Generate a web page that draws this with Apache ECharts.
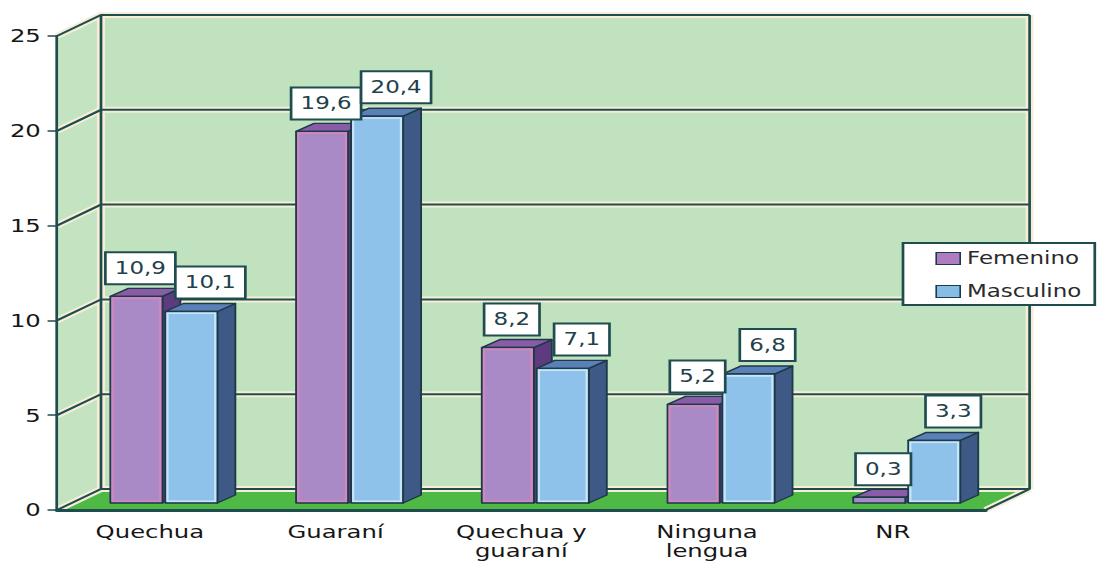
<!DOCTYPE html>
<html>
<head>
<meta charset="utf-8">
<script src="https://cdn.jsdelivr.net/npm/echarts@6/dist/echarts.min.js"></script>
<style>
  html, body { margin: 0; padding: 0; background: #ffffff; overflow: hidden; }
  /* the chart is laid out narrow and widened, which gives its lettering a broad face */
  #chart { width: 815.5px; height: 562px; transform: scaleX(1.35); transform-origin: 0 0; }
</style>
</head>
<body>
<div id="chart"></div>
<script>
// horizontal widening applied to the whole chart
const S = 1.35;

const categories = ['Quechua', 'Guaraní', 'Quechua y\nguaraní', 'Ninguna\nlengua', 'NR'];
const femenino = [10.9, 19.6, 8.2, 5.2, 0.3];
const masculino = [10.1, 20.4, 7.1, 6.8, 3.3];
const yTicks = [0, 5, 10, 15, 20, 25];

const FONT = 'DejaVu Sans';
const LINE = '#1f4d4f';
const HALO = '#f6eed6';

// oblique depth of the box (walls and floor)
const WALL_DX = 44 / S, WALL_DY = -21;
// where the bars sit inside that depth, and how deep they are
const BAR_FX = 14 / S, BAR_FY = -7;
const BAR_DX = 18 / S, BAR_DY = -8;

function renderWalls(params, api) {
  const cs = params.coordSys;
  const x0 = cs.x, x1 = cs.x + cs.width;
  const yb = api.coord([0, yTicks[0]])[1];
  const yt = api.coord([0, yTicks[yTicks.length - 1]])[1];
  const kids = [];
  kids.push({ type: 'polygon', shape: { points: [[x0, yb], [x0, yt], [x0 + WALL_DX, yt + WALL_DY], [x0 + WALL_DX, yb + WALL_DY]] },
    style: { fill: '#c3e3c1' } });
  kids.push({ type: 'rect', shape: { x: x0 + WALL_DX, y: yt + WALL_DY, width: cs.width, height: yb - yt },
    style: { fill: '#c1e2bf' } });
  kids.push({ type: 'polygon', shape: { points: [[x0, yb], [x1, yb], [x1 + WALL_DX, yb + WALL_DY], [x0 + WALL_DX, yb + WALL_DY]] },
    style: { fill: '#4fb946', stroke: LINE, lineWidth: 1.5 } });
  const lines = [];
  yTicks.forEach(function (t) {
    const y = api.coord([0, t])[1];
    lines.push([[x0, y], [x0 + WALL_DX, y + WALL_DY], [x1 + WALL_DX, y + WALL_DY]]);
  });
  lines.push([[x0 + WALL_DX, yt + WALL_DY], [x0 + WALL_DX, yb + WALL_DY]]);
  lines.push([[x1 + WALL_DX, yt + WALL_DY], [x1 + WALL_DX, yb + WALL_DY]]);
  lines.push([[x1, yb], [x1 + WALL_DX, yb + WALL_DY]]);
  lines.forEach(function (pts) {
    kids.push({ type: 'polyline', shape: { points: pts }, style: { stroke: HALO, lineWidth: 6, fill: null } });
  });
  lines.forEach(function (pts) {
    kids.push({ type: 'polyline', shape: { points: pts }, style: { stroke: LINE, lineWidth: 2, fill: null } });
  });
  return { type: 'group', children: kids };
}

function makeBarRenderer(side, c) {
  return function (params, api) {
    const idx = api.value(0), v = api.value(1);
    const base = api.coord([idx, 0]);
    const top = api.coord([idx, v]);
    const band = api.size([1, 0])[0];
    const w = band * 0.28, gap = band * 0.016;
    const L = (side < 0 ? base[0] - gap / 2 - w : base[0] + gap / 2) + BAR_FX;
    const R = L + w;
    const B = base[1] + BAR_FY;
    const T = top[1] + BAR_FY;
    const h = B - T;
    const edge = { stroke: '#1c3a48', lineWidth: 1.4, lineJoin: 'round' };
    const kids = [
      { type: 'polygon', shape: { points: [[R, T], [R + BAR_DX, T + BAR_DY], [R + BAR_DX, B + BAR_DY], [R, B]] },
        style: Object.assign({ fill: c.side }, edge) },
      { type: 'polygon', shape: { points: [[L, T], [R, T], [R + BAR_DX, T + BAR_DY], [L + BAR_DX, T + BAR_DY]] },
        style: Object.assign({ fill: c.top }, edge) },
      { type: 'rect', shape: { x: L, y: T, width: w, height: h },
        style: Object.assign({ fill: c.front }, edge) }
    ];
    if (h > 6) {
      kids.push({ type: 'rect', shape: { x: L + 1.6, y: T + 1.8, width: w - 3.2, height: h - 3.6 },
        style: { fill: null, stroke: c.rim, lineWidth: 1.6 } });
    }
    kids.push({
      type: 'text', z2: 50,
      x: L + w / 2 + c.labelDx / S, y: T + c.labelDy,
      style: {
        text: v.toFixed(1).replace('.', ','),
        fontFamily: FONT, fontSize: 17, fill: '#22404a',
        align: 'center', verticalAlign: 'middle',
        backgroundColor: '#ffffff', borderColor: LINE, borderWidth: 2,
        padding: [7, 6, 6, 6], lineHeight: 17
      }
    });
    return { type: 'group', children: kids };
  };
}

const femColors = { front: '#a98ac6', rim: '#d487bd', top: '#8a5ba6', side: '#5d3b7e', labelDx: 4, labelDy: -28 };
const mascColors = { front: '#8ec2ea', rim: '#c8e6f8', top: '#5b80b8', side: '#3f5986', labelDx: 19, labelDy: -29 };

const chart = echarts.init(document.getElementById('chart'), null, { renderer: 'svg' });
chart.setOption({
  animation: false,
  grid: { left: 57 / S, right: (1101 - 985) / S, top: 36, bottom: 52 },
  xAxis: {
    type: 'category', data: categories, z: 4,
    axisLine: { lineStyle: { color: LINE, width: 3 } },
    axisTick: { length: 7, lineStyle: { color: LINE, width: 1.5 } },
    axisLabel: { interval: 0, fontFamily: FONT, fontSize: 18, lineHeight: 19, color: '#161616', margin: 12 },
    splitLine: { show: false }
  },
  yAxis: {
    type: 'value', min: 0, max: 25, interval: 5, z: 4,
    axisLine: { show: true, lineStyle: { color: LINE, width: 2 } },
    axisTick: { show: true, length: 7, lineStyle: { color: LINE, width: 1.5 } },
    axisLabel: { fontFamily: FONT, fontSize: 18, color: '#161616', margin: 12 },
    splitLine: { show: false }
  },
  legend: {
    orient: 'vertical', left: 903 / S, top: 243,
    padding: [7, 10, 5, 24], itemGap: 16,
    itemWidth: 24 / S, itemHeight: 12,
    backgroundColor: '#ffffff', borderColor: LINE, borderWidth: 2,
    textStyle: { fontFamily: FONT, fontSize: 17, color: '#2a2a2a' },
    data: [
      { name: 'Femenino', icon: 'rect', itemStyle: { color: '#b07cc0', borderColor: '#1c3a48', borderWidth: 1.2 } },
      { name: 'Masculino', icon: 'rect', itemStyle: { color: '#86bce6', borderColor: '#1c3a48', borderWidth: 1.2 } }
    ]
  },
  series: [
    { type: 'custom', name: 'walls', z: 1, silent: true, clip: false,
      renderItem: renderWalls, data: [[0, 0]], encode: { x: 0, y: 1 } },
    { type: 'custom', name: 'Femenino', z: 3, clip: false,
      itemStyle: { color: femColors.front },
      renderItem: makeBarRenderer(-1, femColors),
      data: femenino.map(function (v, i) { return [i, v]; }), encode: { x: 0, y: 1 } },
    { type: 'custom', name: 'Masculino', z: 3, clip: false,
      itemStyle: { color: mascColors.front },
      renderItem: makeBarRenderer(1, mascColors),
      data: masculino.map(function (v, i) { return [i, v]; }), encode: { x: 0, y: 1 } }
  ]
});
</script>
</body>
</html>
